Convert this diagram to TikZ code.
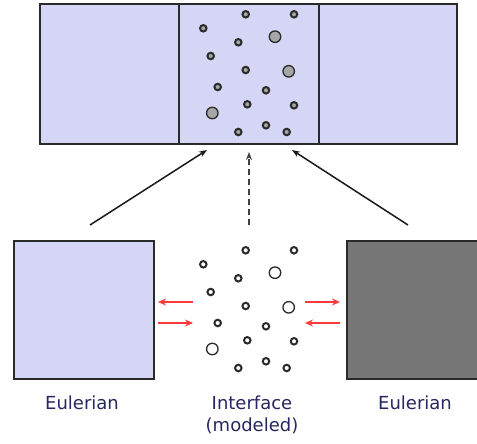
\documentclass[tikz,border=0pt]{standalone}
\usepackage{fontspec}
\setmainfont{DejaVu Sans}
\usetikzlibrary{arrows.meta}
\definecolor{lav}{HTML}{D5D5F5}
\definecolor{dgray}{HTML}{777777}
\definecolor{edge}{HTML}{2A2A2A}
\definecolor{txt}{HTML}{262660}
\definecolor{redarr}{HTML}{FF3A3A}
\tikzset{
  box/.style={draw=edge, line width=2pt, inner sep=0pt},
  divider/.style={draw=edge, line width=1.3pt},
  psmall/.style={circle, inner sep=0pt, minimum size=6.5pt, line width=2pt},
  pbig/.style={circle, inner sep=0pt, minimum size=11.5pt, line width=1.3pt},
  topp/.style={draw=edge, fill=gray!70},
  botp/.style={draw=edge, fill=white},
  linkarrow/.style={draw=black!90, line width=1.5pt, -{Stealth[length=8pt,width=6pt]}},
  redarrow/.style={draw=redarr, line width=1.8pt, -{Stealth[length=8pt,width=7pt]}},
  lbl/.style={text=txt, font=\fontsize{18}{22}\selectfont, align=center}
}
\begin{document}
\begin{tikzpicture}[x=1pt,y=-1pt]
\useasboundingbox (0,0) rectangle (477,444);
% top composite box
\path[fill=lav] (39,3) rectangle (456,143);
\node[box, minimum width=417pt, minimum height=140pt, anchor=north west] (top) at (39,3) {};
\draw[divider] (179,3) -- (179,143);
\draw[divider] (319,3) -- (319,143);
% bottom boxes
\node[box, fill=lav, minimum width=140pt, minimum height=138pt, anchor=north west] (left) at (13,240) {};
\node[box, fill=dgray, minimum width=132pt, minimum height=138pt, anchor=north west] (right) at (346,240) {};
% particles
\foreach \x/\y/\s [count=\i] in {
  245.7/14.3/psmall, 294/14.3/psmall, 203.3/28.3/psmall, 238.3/42.3/psmall,
  275/36.7/pbig, 210.7/56/psmall, 245.7/70/psmall, 288.7/71.3/pbig,
  217.7/87/psmall, 266/90.3/psmall, 247.3/104.3/psmall, 294/105.3/psmall,
  212.3/113/pbig, 238.3/132/psmall, 266/125.3/psmall, 286.7/132/psmall}{
  \node[\s, topp] (t\i) at (\x,\y) {};
  \node[\s, botp] (b\i) at (\x,\y+236) {};
}
% link arrows
\coordinate (la) at (90,225);
\coordinate (lh) at (207,150);
\coordinate (ma) at (249,225);
\coordinate (mh) at (249,152);
\coordinate (ra) at (408,225);
\coordinate (rh) at (292,150);
\draw[linkarrow] (la) -- (lh);
\draw[linkarrow, dash pattern=on 6pt off 4pt, draw=black!75] (ma) -- (mh);
\draw[linkarrow] (ra) -- (rh);
% red exchange arrows
\coordinate (r1a) at (193,302); \coordinate (r1b) at (158,302);
\coordinate (r2a) at (158,323); \coordinate (r2b) at (193,323);
\coordinate (r3a) at (305,302); \coordinate (r3b) at (340,302);
\coordinate (r4a) at (340,323); \coordinate (r4b) at (305,323);
\draw[redarrow] (r1a) -- (r1b);
\draw[redarrow] (r2a) -- (r2b);
\draw[redarrow] (r3a) -- (r3b);
\draw[redarrow] (r4a) -- (r4b);
% labels
\node[lbl] (l1) at (82,403) {Eulerian};
\node[lbl, anchor=north] (l2) at (252,392) {Interface\\(modeled)};
\node[lbl] (l3) at (415,403) {Eulerian};
\end{tikzpicture}
\end{document}
